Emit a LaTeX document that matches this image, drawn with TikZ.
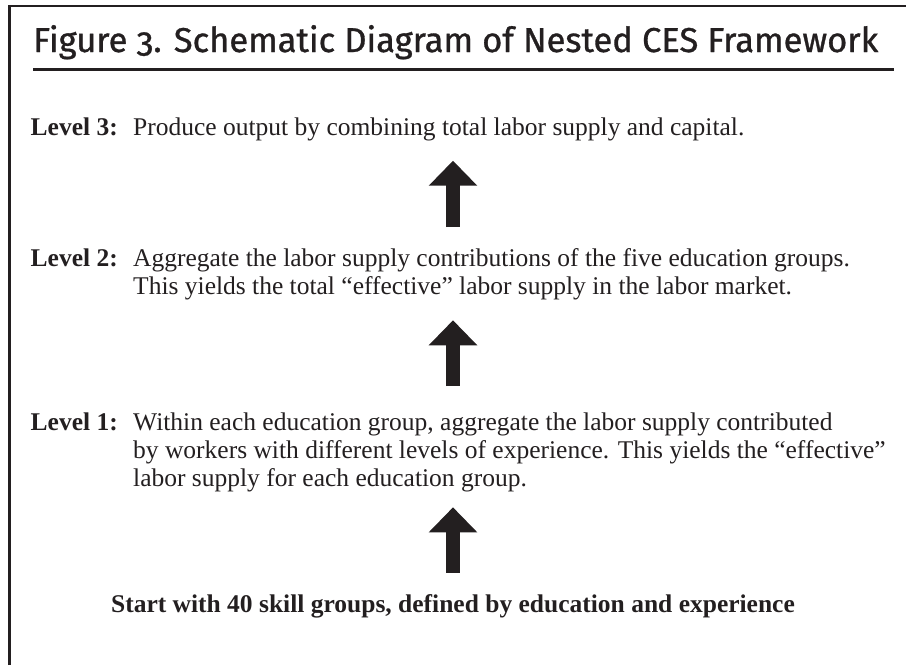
\documentclass[tikz,border=0pt]{standalone}
\usepackage{fontspec}
\setmainfont{Liberation Serif}
\newfontfamily\titlefont[Numbers=OldStyle,FakeBold=0.9]{Fira Sans}
\usetikzlibrary{arrows.meta,positioning}
\definecolor{ink}{RGB}{35,31,32}
\tikzset{
  levelhead/.style={anchor=base east, inner sep=0pt, text=ink,
    font=\fontsize{25.5}{28.3}\selectfont\bfseries},
  leveltext/.style={anchor=north west, inner sep=0pt, align=left, text=ink,
    font=\fontsize{25.5}{28.3}\selectfont},
  uparrow/.style={ink, line width=14pt, -{Triangle[width=47pt,length=25pt]}},
}

\begin{document}
\begin{tikzpicture}[x=1pt,y=-1pt]
    \useasboundingbox (0,0) rectangle (906,665);

    % frame and title
    \draw[ink, line width=2.5pt] (9.5,665) -- (9.5,6) -- (906,6);
    \node[anchor=base west, inner sep=0pt, text=ink,
      font=\titlefont\fontsize{34.5}{40}\selectfont] (title) at (33,52)
      {Figure 3. Schematic Diagram of Nested CES Framework};
    \draw[ink, line width=2.5pt] (33,69.7) -- (894,69.7);

    % Level 3
    \node[levelhead] (lvlthree) at (118,135) {Level 3:};
    \node[leveltext, right=15pt of lvlthree.north east, anchor=north west] (txtthree)
      {Produce output by combining total labor supply and capital.};

    % Level 2
    \node[levelhead] (lvltwo) at (118,266) {Level 2:};
    \node[leveltext, right=15pt of lvltwo.north east, anchor=north west] (txttwo)
      {Aggregate the labor supply contributions of the five education groups.\\
       This yields the total “effective” labor supply in the labor market.};

    % Level 1
    \node[levelhead] (lvlone) at (118,430) {Level 1:};
    \node[leveltext, right=15pt of lvlone.north east, anchor=north west] (txtone)
      {Within each education group, aggregate the labor supply contributed\\
       by workers with different levels of experience. This yields the “effective”\\
       labor supply for each education group.};

    % starting point
    \node[anchor=base, inner sep=0pt, text=ink,
      font=\fontsize{25.5}{28.3}\selectfont\bfseries] (start) at (453,612)
      {Start with 40 skill groups, defined by education and experience};

    % arrows
    \draw[uparrow, shorten <=21pt, shorten >=15pt] (start.north) -- (start.north |- txtone.south);
    \draw[uparrow, shorten <=26pt, shorten >=20pt] (start.north |- lvlone.north) -- (start.north |- txttwo.south);
    \draw[uparrow, shorten <=21pt, shorten >=20pt] (start.north |- lvltwo.north) -- (start.north |- txtthree.south);
\end{tikzpicture}
\end{document}
